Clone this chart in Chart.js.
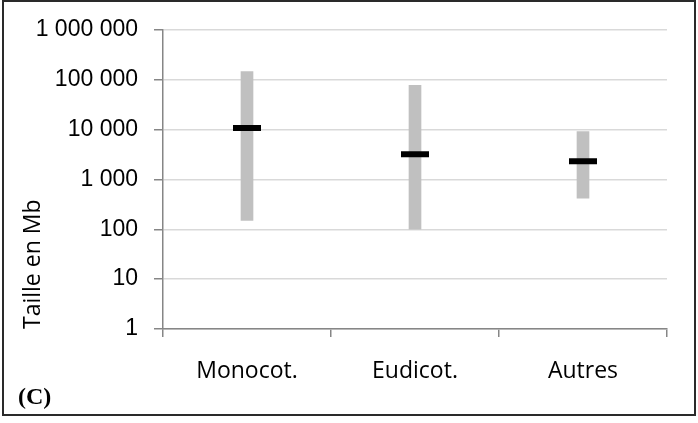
<!DOCTYPE html>
<html>
<head>
<meta charset="utf-8">
<script src="https://cdn.jsdelivr.net/npm/chart.js@4/dist/chart.umd.min.js"></script>
<style>
  html, body { margin: 0; padding: 0; background: #fff; }
  #wrap { position: relative; width: 698px; height: 423px; }
  #myChart { position: absolute; left: 0; top: 0; }
  #frame {
    position: absolute; left: 2px; top: 0px; width: 694px; height: 416px;
    box-sizing: border-box; border: 2px solid #2a2a2a; pointer-events: none;
  }
  #panel {
    position: absolute; left: 18px; top: 383px;
    font-family: "Liberation Serif", serif; font-weight: bold; font-size: 24px; color: #000;
  }
</style>
</head>
<body>
<div id="wrap">
  <canvas id="myChart" width="698" height="423"></canvas>
  <div id="frame"></div>
  <div id="panel">(C)</div>
</div>
<script>
// genome sizes (Mb)
const categories = ['Monocot.', 'Eudicot.', 'Autres'];
const minSizes = [150, 100, 420];
const maxSizes = [145000, 77000, 9100];
const meanSizes = [10700, 3200, 2300];
const yTicks = [1, 10, 100, 1000, 10000, 100000, 1000000];

// "1 000 000" style labels
function formatNumber(v) {
  return String(Math.round(v)).replace(/\B(?=(\d{3})+(?!\d))/g, ' ');
}

const ranges = categories.map(function (c, i) {
  return [minSizes[i], maxSizes[i]];
});

const ctx = document.getElementById('myChart');

new Chart(ctx, {
  type: 'bar',
  data: {
    labels: categories,
    datasets: [
      {
        type: 'line',
        label: 'Moyenne',
        data: meanSizes,
        showLine: false,
        pointStyle: 'line',
        pointRadius: 14,
        pointBorderWidth: 6,
        pointBorderColor: '#000',
        pointBackgroundColor: '#000',
        order: 0
      },
      {
        label: 'Étendue',
        data: ranges,
        backgroundColor: '#c0c0c0',
        borderWidth: 0,
        barThickness: 12,
        order: 1
      }
    ]
  },
  options: {
    responsive: false,
    animation: false,
    layout: { padding: { left: 0, right: 31, top: 29, bottom: 0 } },
    plugins: {
      legend: { display: false },
      tooltip: { enabled: false }
    },
    scales: {
      x: {
        offset: true,
        grid: {
          offset: true,
          drawOnChartArea: false,
          drawTicks: true,
          tickLength: 8,
          tickColor: '#868686',
          lineWidth: 1.5
        },
        border: { color: '#868686', width: 1.5 },
        ticks: {
          color: '#000',
          padding: 21,
          font: { family: 'Open Sans', size: 23 }
        },
        afterFit: function (scale) { scale.height = 94; }
      },
      y: {
        type: 'logarithmic',
        min: 1,
        max: 1000000,
        grid: {
          color: '#d9d9d9',
          lineWidth: 1.5,
          tickLength: 9,
          tickColor: '#868686'
        },
        border: { color: '#868686', width: 1.5 },
        ticks: {
          color: '#000',
          padding: 16,
          autoSkip: false,
          font: { family: 'Liberation Sans', size: 23 },
          callback: function (value) { return formatNumber(value); }
        },
        afterBuildTicks: function (scale) {
          scale.ticks = yTicks.map(function (v) { return { value: v }; });
        },
        title: {
          display: true,
          text: 'Taille en Mb',
          align: 'start',
          color: '#000',
          padding: { top: 20, bottom: 0 },
          font: { family: 'Open Sans', size: 23 }
        },
        afterFit: function (scale) { scale.width = 163; }
      }
    }
  }
});
</script>
</body>
</html>
